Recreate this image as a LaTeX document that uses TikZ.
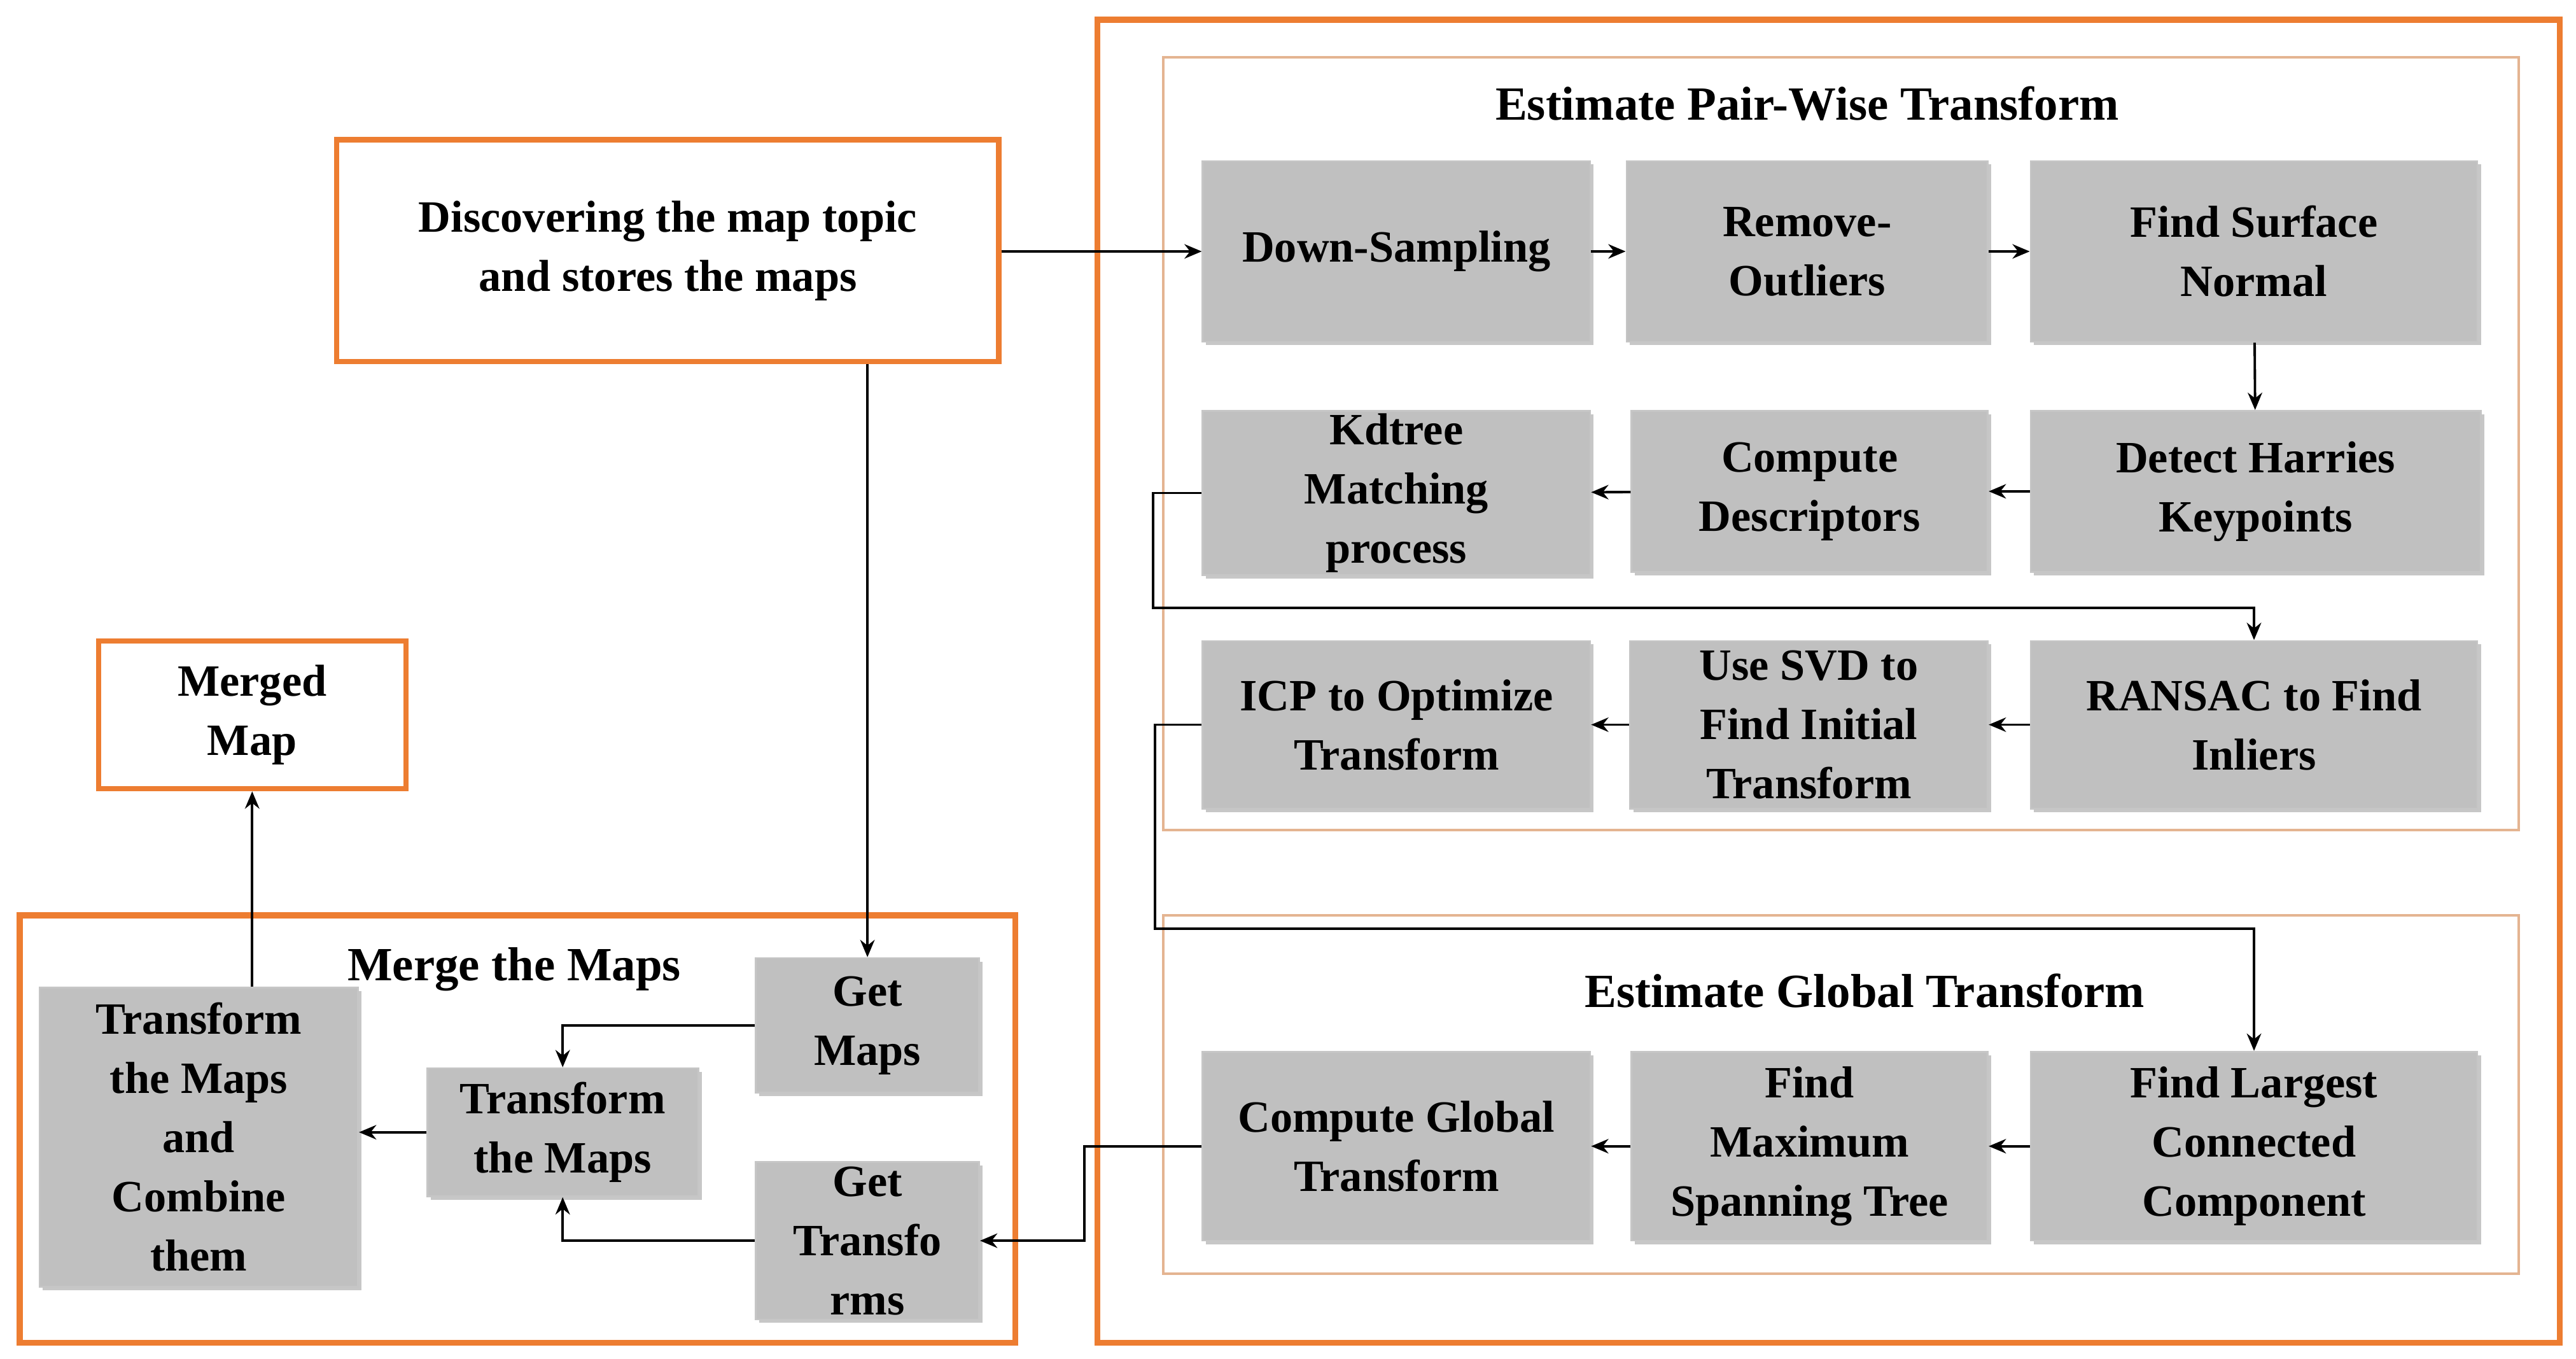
\documentclass[tikz,border=0pt]{standalone}
\usepackage{fontspec}
\setmainfont{Liberation Serif}
\usetikzlibrary{arrows.meta,shadows}
\definecolor{orng}{RGB}{237,125,49}
\definecolor{tan}{RGB}{228,180,145}
\definecolor{boxg}{RGB}{192,192,192}
\begin{document}
\begin{tikzpicture}[x=0.02cm,y=-0.02cm,
  box/.style={fill=boxg,draw=gray!45,line width=0.6pt,align=center,inner sep=0pt,
    font=\bfseries\fontsize{15.5}{20.5}\selectfont,
    drop shadow={shadow xshift=1.2pt,shadow yshift=-1.2pt,fill=gray!55,opacity=0.8}},
  obox/.style={fill=white,draw=orng,line width=1.8pt,align=center,inner sep=0pt,
    font=\bfseries\fontsize{15.5}{20.5}\selectfont},
  ttl/.style={font=\bfseries\fontsize{16.5}{20}\selectfont},
  arr/.style={-{Stealth[length=6pt,width=5pt]},line width=0.85pt}]
\useasboundingbox (0,0) rectangle (1568,827);
% frames
\draw[orng,line width=2pt] (668,12) rectangle (1558,817);
\draw[tan,line width=0.9pt] (708,35) rectangle (1533,505);
\draw[tan,line width=0.9pt] (708,557) rectangle (1533,775);
\draw[orng,line width=2pt] (12,557) rectangle (618,817);
\node[ttl] (t1) at (1100,63) {Estimate Pair-Wise Transform};
\node[ttl] (t2) at (1135,603) {Estimate Global Transform};
\node[ttl] (t3) at (313,590) {Merge the Maps};
% boxes
\node[box,minimum width=4.72cm,minimum height=2.2cm] (down) at (850,153) {Down-Sampling};
\node[box,minimum width=4.4cm,minimum height=2.2cm] (rem) at (1100,153) {Remove-\\Outliers};
\node[box,minimum width=5.44cm,minimum height=2.2cm] (surf) at (1372,153) {Find Surface\\Normal};
\node[box,minimum width=4.72cm,minimum height=2.0cm] (kd) at (850,300) {Kdtree\\Matching\\process};
\node[box,minimum width=4.34cm,minimum height=1.96cm] (desc) at (1101.5,299) {Compute\\Descriptors};
\node[box,minimum width=5.48cm,minimum height=1.96cm] (harr) at (1373,299) {Detect Harries\\Keypoints};
\node[box,minimum width=4.72cm,minimum height=2.04cm] (icp) at (850,441) {ICP to Optimize\\Transform};
\node[box,minimum width=4.36cm,minimum height=2.04cm] (svd) at (1101,441) {Use SVD to\\Find Initial\\Transform};
\node[box,minimum width=5.44cm,minimum height=2.04cm] (ran) at (1372,441) {RANSAC to Find\\Inliers};
\node[box,minimum width=4.72cm,minimum height=2.3cm] (cg) at (850,697.5) {Compute Global\\Transform};
\node[box,minimum width=4.34cm,minimum height=2.3cm] (mst) at (1101.5,697.5) {Find\\Maximum\\Spanning Tree};
\node[box,minimum width=5.44cm,minimum height=2.3cm] (lcc) at (1372,697.5) {Find Largest\\Connected\\Component};
\node[obox,minimum width=8.06cm,minimum height=2.7cm] (disc) at (406.5,152.5) {Discovering the map topic\\and stores the maps};
\node[obox,minimum width=3.74cm,minimum height=1.8cm] (merged) at (153.5,435) {Merged\\Map};
\node[box,minimum width=2.72cm,minimum height=1.64cm] (gm) at (528,624) {Get\\Maps};
\node[box,minimum width=2.72cm,minimum height=1.92cm] (gt) at (528,755) {Get\\Transfo\\rms};
\node[box,minimum width=3.3cm,minimum height=1.56cm] (tm) at (342.5,689) {Transform\\the Maps};
\node[box,minimum width=3.88cm,minimum height=3.64cm] (comb) at (121,692) {Transform\\the Maps\\and\\Combine\\them};
% connectors
\coordinate (k1) at (702,370);
\coordinate (k2) at (703,565);
\coordinate (k3) at (660,755);
\draw[arr] (disc.east |- down.west) -- (down.west);
\draw[arr] (down) -- (rem);
\draw[arr] (rem) -- (surf);
\draw[arr] (surf) -- (harr);
\draw[arr] (harr) -- (desc);
\draw[arr] (desc) -- (kd);
\draw[arr] (kd.west) -| (k1) -| (ran.north);
\draw[arr] (ran) -- (svd);
\draw[arr] (svd) -- (icp);
\draw[arr] (icp.west) -| (k2) -| (lcc.north);
\draw[arr] (lcc) -- (mst);
\draw[arr] (mst) -- (cg);
\draw[arr] (cg.west) -| (k3) -- (gt.east |- k3);
\draw[arr] (disc.south -| gm.north) -- (gm.north);
\draw[arr] (gm.west) -| (tm.north);
\draw[arr] (gt.west) -| (tm.south);
\draw[arr] (tm.west) -- (comb.east |- tm.west);
\draw[arr] (comb.north -| merged.south) -- (merged.south);
\end{tikzpicture}
\end{document}
